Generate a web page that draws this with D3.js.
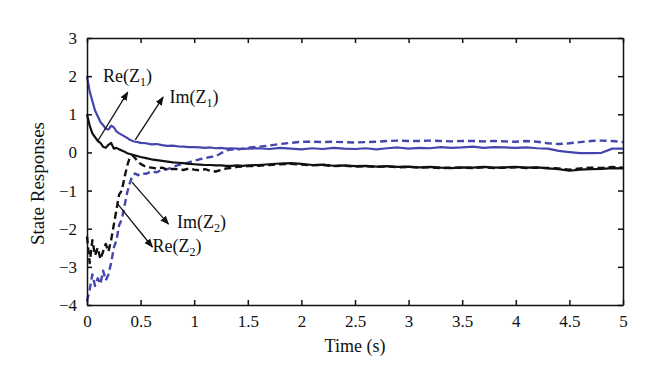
<!DOCTYPE html>
<html>
<head>
<meta charset="utf-8">
<script src="https://cdn.jsdelivr.net/npm/d3@7"></script>
<style>
  body { margin: 0; background: #fff; }
  svg { display: block; font-family: "Liberation Serif", "DejaVu Serif", serif; }
</style>
</head>
<body>
<svg width="660" height="386"></svg>
<script>
// time samples (s)
const time = [0, 0.025, 0.05, 0.075, 0.1, 0.125, 0.15, 0.175, 0.2, 0.225, 0.25, 0.275, 0.3, 0.325, 0.35, 0.375, 0.4, 0.425, 0.45, 0.475, 0.5,
  0.55, 0.6, 0.65, 0.7, 0.75, 0.8, 0.85, 0.9, 0.95, 1, 1.05, 1.1, 1.15, 1.2, 1.25, 1.3, 1.35, 1.4, 1.45, 1.5,
  1.6, 1.7, 1.8, 1.9, 2, 2.1, 2.2, 2.3, 2.4, 2.5, 2.6, 2.7, 2.8, 2.9, 3, 3.1, 3.2, 3.3, 3.4, 3.5, 3.6, 3.7, 3.8, 3.9, 4, 4.1, 4.2, 4.3, 4.4, 4.5, 4.6, 4.7, 4.8, 4.9, 5];

// Im(Z1) - blue solid
const imZ1 = [2.0, 1.6, 1.35, 1.1, 0.95, 0.8, 0.72, 0.62, 0.6, 0.7, 0.66, 0.55, 0.5, 0.46, 0.42, 0.38, 0.33, 0.3, 0.28, 0.27, 0.25,
  0.24, 0.21, 0.22, 0.19, 0.17, 0.18, 0.16, 0.15, 0.14, 0.14, 0.13, 0.12, 0.13, 0.11, 0.12, 0.1, 0.11, 0.1, 0.09, 0.1,
  0.11, 0.09, 0.12, 0.1, 0.08, 0.11, 0.09, 0.12, 0.1, 0.09, 0.11, 0.08, 0.11, 0.13, 0.1, 0.12, 0.11, 0.14, 0.12, 0.13, 0.15, 0.12, 0.14, 0.13, 0.12, 0.13, 0.11, 0.1, 0.04, 0.01, -0.02, -0.02, -0.01, 0.1, 0.1];

// Re(Z1) - black solid
const reZ1 = [1.0, 0.7, 0.5, 0.4, 0.3, 0.25, 0.15, 0.12, 0.2, 0.25, 0.1, 0.12, 0.08, 0.05, 0.02, -0.02, -0.04, -0.06, -0.08, -0.1, -0.12,
  -0.15, -0.18, -0.2, -0.22, -0.24, -0.26, -0.27, -0.28, -0.3, -0.31, -0.32, -0.33, -0.33, -0.34, -0.34, -0.35, -0.35, -0.34, -0.35, -0.34,
  -0.33, -0.31, -0.29, -0.28, -0.3, -0.33, -0.32, -0.35, -0.34, -0.36, -0.35, -0.37, -0.36, -0.38, -0.37, -0.39, -0.38, -0.4, -0.41, -0.39, -0.4, -0.38, -0.4, -0.39, -0.38, -0.4, -0.39, -0.42, -0.44, -0.48, -0.45, -0.44, -0.43, -0.41, -0.42];

// Re(Z2) - black dashed
const reZ2 = [-2.2, -2.9, -2.3, -2.7, -2.5, -2.8, -2.6, -2.4, -2.6, -2.3, -1.9, -1.5, -1.1, -1.0, -0.65, -0.35, -0.12, -0.08, -0.15, -0.25, -0.3,
  -0.38, -0.4, -0.42, -0.4, -0.45, -0.43, -0.44, -0.46, -0.42, -0.45, -0.47, -0.44, -0.48, -0.5, -0.46, -0.42, -0.4, -0.38, -0.37, -0.36,
  -0.35, -0.33, -0.31, -0.3, -0.32, -0.34, -0.33, -0.36, -0.35, -0.37, -0.36, -0.38, -0.37, -0.39, -0.38, -0.4, -0.39, -0.41, -0.4, -0.4, -0.41, -0.39, -0.41, -0.4, -0.39, -0.41, -0.4, -0.41, -0.42, -0.45, -0.42, -0.4, -0.41, -0.38, -0.4];

// Im(Z2) - blue dashed
const imZ2 = [-3.9, -3.6, -3.2, -3.5, -3.3, -3.45, -3.1, -3.35, -3.2, -2.9, -2.5, -2.3, -1.9, -1.75, -1.4, -1.05, -0.8, -0.6, -0.55, -0.6, -0.55,
  -0.56, -0.5, -0.52, -0.46, -0.44, -0.38, -0.33, -0.3, -0.26, -0.22, -0.18, -0.15, -0.12, -0.1, -0.02, 0.05, 0.08, 0.07, 0.1, 0.12,
  0.15, 0.18, 0.22, 0.25, 0.28, 0.28, 0.27, 0.28, 0.27, 0.26, 0.27, 0.28, 0.3, 0.31, 0.3, 0.3, 0.31, 0.3, 0.29, 0.3, 0.3, 0.29, 0.3, 0.29, 0.28, 0.3, 0.28, 0.24, 0.22, 0.24, 0.27, 0.3, 0.31, 0.3, 0.27];

const xTicks = [0, 0.5, 1, 1.5, 2, 2.5, 3, 3.5, 4, 4.5, 5];
const yTicks = [-4, -3, -2, -1, 0, 1, 2, 3];

// annotation: label, subscript, arrow tail/head and label anchor in data units
const annoLabels = ["Re", "Im", "Im", "Re"];
const annoSubs = ["1", "1", "2", "2"];
const annoTail = [[0.10, 0.30], [0.45, 0.33], [0.42, -0.78], [0.28, -1.33]];
const annoHead = [[0.38, 1.58], [0.71, 1.45], [0.76, -1.88], [0.61, -2.48]];
const annoText = [[0.15, 1.85], [0.77, 1.29], [0.84, -1.98], [0.61, -2.61]];

const svg = d3.select("svg");
const margin = { top: 38, right: 37, bottom: 81, left: 87 };
const width = +svg.attr("width") - margin.left - margin.right;
const height = +svg.attr("height") - margin.top - margin.bottom;
const g = svg.append("g").attr("transform", `translate(${margin.left},${margin.top})`);

const x = d3.scaleLinear().domain([0, 5]).range([0, width]);
const y = d3.scaleLinear().domain([-4, 3]).range([height, 0]);

const blue = "#4545ae";
const black = "#111";

// series
const series = [
  { v: imZ2, color: blue, dash: "7,4", w: 2.4 },
  { v: reZ2, color: black, dash: "7,4", w: 2.4 },
  { v: imZ1, color: blue, dash: null, w: 2.2 },
  { v: reZ1, color: black, dash: null, w: 2.2 }
];
const line = d3.line().x((d, i) => x(time[i])).y(d => y(d));
series.forEach(s => {
  g.append("path")
    .datum(s.v)
    .attr("d", line)
    .attr("fill", "none")
    .attr("stroke", s.color)
    .attr("stroke-width", s.w)
    .attr("stroke-dasharray", s.dash)
    .attr("stroke-linejoin", "round");
});

// axes box with inward ticks
const fmt = d => String(d).replace("-", "\u2212");
const axB = g.append("g").attr("transform", `translate(0,${height})`)
  .call(d3.axisBottom(x).tickValues(xTicks).tickSizeInner(-5).tickSizeOuter(0).tickPadding(10).tickFormat(fmt));
const axT = g.append("g")
  .call(d3.axisTop(x).tickValues(xTicks).tickSizeInner(-5).tickSizeOuter(0).tickFormat(""));
const axL = g.append("g")
  .call(d3.axisLeft(y).tickValues(yTicks).tickSizeInner(-5).tickSizeOuter(0).tickPadding(10).tickFormat(fmt));
const axR = g.append("g").attr("transform", `translate(${width},0)`)
  .call(d3.axisRight(y).tickValues(yTicks).tickSizeInner(-5).tickSizeOuter(0).tickFormat(""));
[axB, axT, axL, axR].forEach(a => {
  a.selectAll("path, line").attr("stroke", black).attr("stroke-width", 1.5);
  a.selectAll("text").attr("fill", black).style("font-size", "17px").style("font-family", "Liberation Serif, serif");
});

// axis titles
svg.append("text")
  .attr("x", margin.left + width / 2)
  .attr("y", 352)
  .attr("text-anchor", "middle")
  .style("font-size", "18px")
  .attr("fill", black)
  .text("Time (s)");
svg.append("text")
  .attr("transform", `translate(44,${margin.top + height / 2 + 12}) rotate(-90)`)
  .attr("text-anchor", "middle")
  .style("font-size", "19px")
  .attr("fill", black)
  .text("State Responses");

// arrows
svg.append("defs").append("marker")
  .attr("id", "arr")
  .attr("viewBox", "0 0 10 10")
  .attr("refX", 9).attr("refY", 5)
  .attr("markerWidth", 9).attr("markerHeight", 9)
  .attr("markerUnits", "userSpaceOnUse")
  .attr("orient", "auto")
  .append("path").attr("d", "M0,1 L10,5 L0,9 Z").attr("fill", black);

annoLabels.forEach((lab, i) => {
  g.append("line")
    .attr("x1", x(annoTail[i][0])).attr("y1", y(annoTail[i][1]))
    .attr("x2", x(annoHead[i][0])).attr("y2", y(annoHead[i][1]))
    .attr("stroke", black).attr("stroke-width", 1.3)
    .attr("marker-end", "url(#arr)");
  const t = g.append("text")
    .attr("x", x(annoText[i][0])).attr("y", y(annoText[i][1]))
    .attr("fill", black)
    .style("font-size", "18px");
  t.append("tspan").text(lab + "(Z");
  t.append("tspan").attr("dy", 4).style("font-size", "12px").text(annoSubs[i]);
  t.append("tspan").attr("dy", -4).text(")");
});
</script>
</body>
</html>
